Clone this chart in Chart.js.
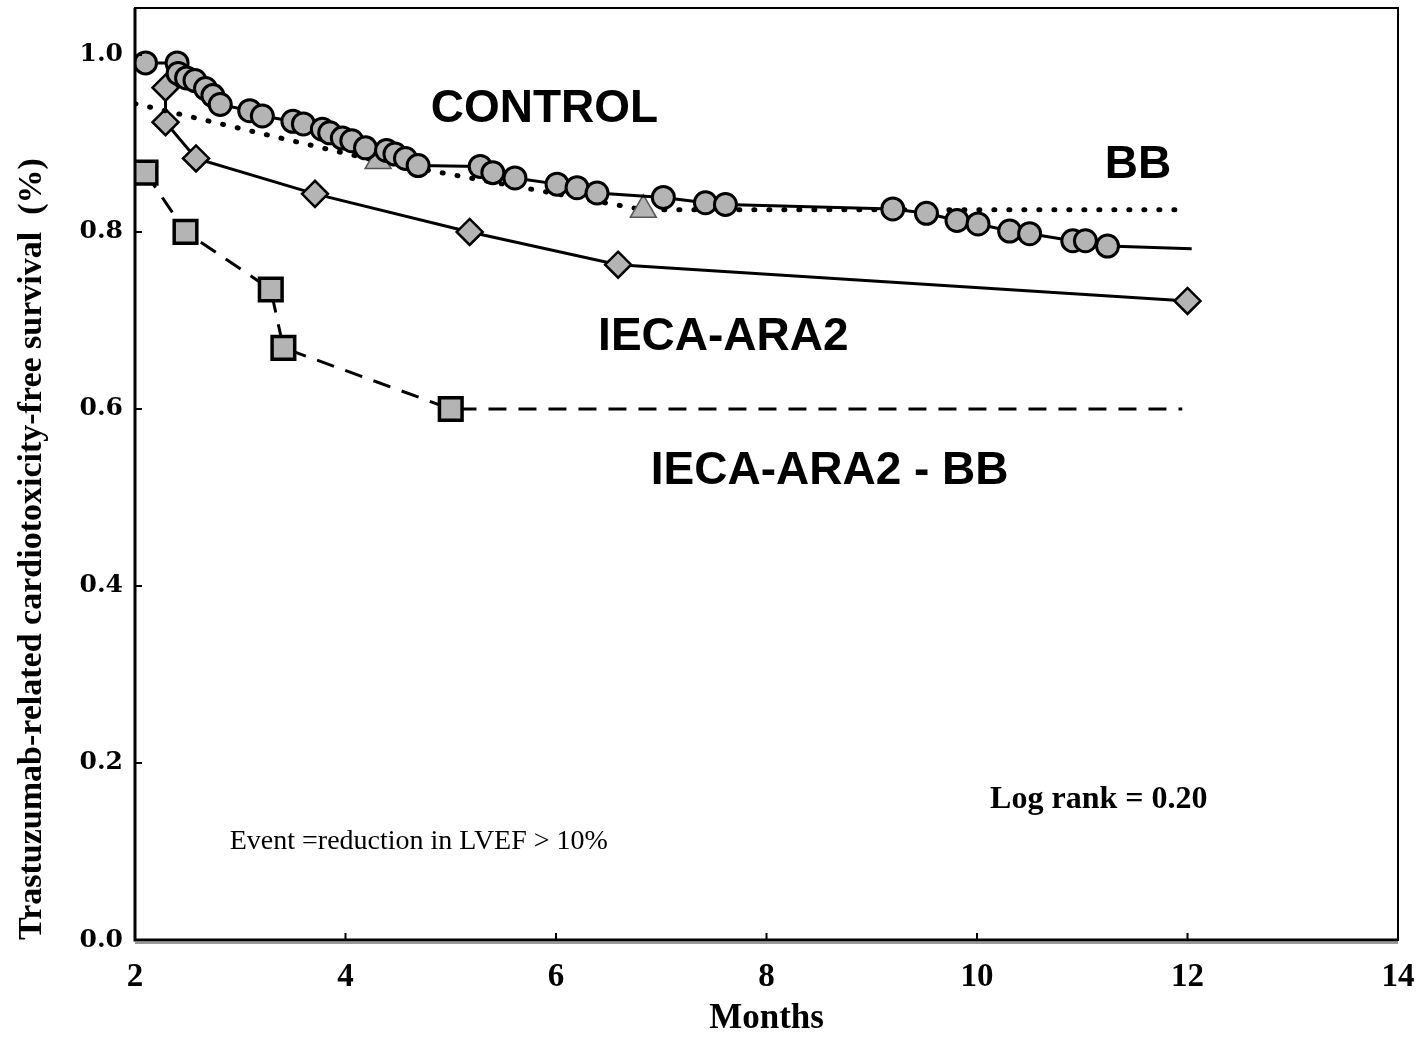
<!DOCTYPE html>
<html lang="en">
<head>
    <meta charset="UTF-8">
    <title>Trastuzumab-related cardiotoxicity-free survival</title>
    <script src="https://cdn.jsdelivr.net/npm/chart.js"></script>
    <style>
        body {
            margin: 0;
            padding: 0;
            background: #ffffff;
        }
        #chartContainer {
            width: 1421px;
            height: 1040px;
        }
    </style>
</head>
<body>
    <div id="chartContainer">
        <canvas id="chart"></canvas>
    </div>

    <script>
        // Ticks
        const xTicks = [2, 4, 6, 8, 10, 12, 14];
        const yTicks = [0.0, 0.2, 0.4, 0.6, 0.8, 1.0];

        // CONTROL (circles, solid line) - last point is the end of follow-up
        const controlMonths = [2.10, 2.40, 2.41, 2.49, 2.57, 2.67, 2.74, 2.81, 3.09, 3.21, 3.50, 3.60, 3.78, 3.85, 3.97, 4.06, 4.19, 4.39, 4.47, 4.57, 4.69,
            5.28, 5.40, 5.61, 6.01, 6.20, 6.39, 7.02, 7.42, 7.61, 9.20, 9.52, 9.81, 10.01, 10.31, 10.50, 10.91, 11.03, 11.24, 12.04];
        const controlSurv = [0.991, 0.991, 0.979, 0.974, 0.971, 0.962, 0.954, 0.944, 0.937, 0.931, 0.925, 0.922, 0.916, 0.912, 0.906, 0.903, 0.895, 0.892, 0.888, 0.883, 0.875,
            0.874, 0.867, 0.861, 0.854, 0.850, 0.844, 0.839, 0.833, 0.831, 0.826, 0.821, 0.813, 0.809, 0.801, 0.798, 0.790, 0.790, 0.784, 0.781];

        // BB (triangles, dotted line)
        const bbMonths = [2.0, 4.31, 6.83, 12.0];
        const bbSurv = [0.945, 0.880, 0.825, 0.825];

        // IECA-ARA2 (diamonds, solid line)
        const ieca2Months = [2.29, 2.29, 2.58, 3.71, 5.18, 6.59, 12.0];
        const ieca2Surv = [0.963, 0.924, 0.883, 0.843, 0.800, 0.763, 0.722];

        // IECA-ARA2 - BB (squares, dashed line)
        const iecaBbMonths = [2.10, 2.48, 3.29, 3.41, 5.00, 11.95];
        const iecaBbSurv = [0.867, 0.800, 0.735, 0.669, 0.600, 0.600];

        const toPoints = (xs, ys) => xs.map((x, i) => ({ x: x, y: ys[i] }));

        const markFill = '#b4b4b4';

        // texte dans le graphique, placé en coordonnées des axes
        const notes = [
            { text: 'CONTROL', x: 5.89, y: 0.938, font: 'bold 46px "Liberation Sans"', align: 'center' },
            { text: 'BB', x: 11.53, y: 0.875, font: 'bold 46px "Liberation Sans"', align: 'center' },
            { text: 'IECA-ARA2', x: 7.59, y: 0.681, font: 'bold 46px "Liberation Sans"', align: 'center' },
            { text: 'IECA-ARA2 - BB', x: 8.60, y: 0.530, font: 'bold 46px "Liberation Sans"', align: 'center' },
            { text: 'Log rank = 0.20', x: 12.19, y: 0.158, font: 'bold 32px "Liberation Serif"', align: 'right' },
            { text: 'Event =reduction in LVEF > 10%', x: 2.90, y: 0.111, font: '28px "Liberation Serif"', align: 'left' }
        ];

        const framePlugin = {
            id: 'frame',
            afterDatasetsDraw(chart) {
                const { ctx, chartArea: a, scales } = chart;
                ctx.save();
                ctx.strokeStyle = '#000';
                ctx.lineWidth = 2;
                ctx.strokeRect(a.left, a.top, a.right - a.left, a.bottom - a.top);
                // axes plus épais
                ctx.lineWidth = 3;
                ctx.beginPath();
                ctx.moveTo(a.left, a.top);
                ctx.lineTo(a.left, a.bottom);
                ctx.lineTo(a.right, a.bottom);
                ctx.stroke();
                ctx.strokeStyle = '#999';
                ctx.lineWidth = 2;
                ctx.beginPath();
                ctx.moveTo(a.left, a.bottom + 3);
                ctx.lineTo(a.right, a.bottom + 3);
                ctx.stroke();
                // petites graduations vers l'intérieur
                ctx.strokeStyle = '#000';
                ctx.lineWidth = 2;
                ctx.beginPath();
                xTicks.forEach(v => {
                    const px = scales.x.getPixelForValue(v);
                    ctx.moveTo(px, a.bottom);
                    ctx.lineTo(px, a.bottom - 7);
                });
                yTicks.forEach(v => {
                    const py = scales.y.getPixelForValue(v);
                    ctx.moveTo(a.left, py);
                    ctx.lineTo(a.left + 7, py);
                });
                ctx.stroke();
                // annotations
                ctx.fillStyle = '#000';
                ctx.textBaseline = 'middle';
                notes.forEach(n => {
                    ctx.font = n.font;
                    ctx.textAlign = n.align;
                    ctx.fillText(n.text, scales.x.getPixelForValue(n.x), scales.y.getPixelForValue(n.y));
                });
                ctx.restore();
            }
        };

        const ctx = document.getElementById('chart').getContext('2d');

        const chart = new Chart(ctx, {
            type: 'line',
            data: {
                datasets: [
                    {
                        label: 'CONTROL',
                        data: toPoints(controlMonths, controlSurv),
                        borderColor: '#000',
                        borderWidth: 3,
                        pointStyle: 'circle',
                        pointRadius: c => c.dataIndex === controlMonths.length - 1 ? 0 : 11,
                        pointBackgroundColor: markFill,
                        pointBorderColor: '#000',
                        pointBorderWidth: 3,
                        order: 1
                    },
                    {
                        label: 'BB',
                        data: toPoints(bbMonths, bbSurv),
                        borderColor: '#000',
                        borderWidth: 5,
                        borderDash: [1, 14],
                        borderCapStyle: 'round',
                        pointStyle: 'triangle',
                        pointRadius: c => (c.dataIndex === 0 || c.dataIndex === bbMonths.length - 1) ? 0 : 15,
                        pointBackgroundColor: markFill,
                        pointBorderColor: '#555',
                        pointBorderWidth: 1.5,
                        order: 2
                    },
                    {
                        label: 'IECA-ARA2',
                        data: toPoints(ieca2Months, ieca2Surv),
                        borderColor: '#000',
                        borderWidth: 3,
                        pointStyle: 'rectRot',
                        pointRadius: 13,
                        pointBackgroundColor: markFill,
                        pointBorderColor: '#000',
                        pointBorderWidth: 2.5,
                        order: 3
                    },
                    {
                        label: 'IECA-ARA2 - BB',
                        data: toPoints(iecaBbMonths, iecaBbSurv),
                        borderColor: '#000',
                        borderWidth: 3,
                        borderDash: [18, 12],
                        pointStyle: 'rect',
                        pointRadius: c => c.dataIndex === iecaBbMonths.length - 1 ? 0 : 16,
                        pointBackgroundColor: markFill,
                        pointBorderColor: '#000',
                        pointBorderWidth: 3.5,
                        order: 4
                    }
                ]
            },
            options: {
                responsive: true,
                maintainAspectRatio: false,
                animation: false,
                layout: {
                    autoPadding: false,
                    padding: { top: 8, right: 23, left: 0, bottom: 0 }
                },
                plugins: {
                    legend: { display: false },
                    tooltip: { enabled: false }
                },
                elements: {
                    line: { tension: 0 }
                },
                scales: {
                    x: {
                        type: 'linear',
                        min: 2,
                        max: 14,
                        afterBuildTicks: s => { s.ticks = xTicks.map(v => ({ value: v })); },
                        afterFit: s => { s.height = 100; s.paddingLeft = 0; s.paddingRight = 0; },
                        grid: { display: false, drawTicks: false },
                        border: { display: false },
                        ticks: {
                            autoSkip: false,
                            maxRotation: 0,
                            padding: 18,
                            color: '#000',
                            font: { family: '"Liberation Serif"', weight: 'bold', size: 33 }
                        },
                        title: {
                            display: true,
                            text: 'Months',
                            color: '#000',
                            padding: { top: 0, bottom: 0 },
                            font: { family: '"Liberation Serif"', weight: 'bold', size: 35 }
                        }
                    },
                    y: {
                        type: 'linear',
                        min: 0,
                        max: 1.053,
                        afterBuildTicks: s => { s.ticks = yTicks.map(v => ({ value: v })); },
                        afterFit: s => { s.width = 135; s.paddingTop = 0; s.paddingBottom = 0; },
                        grid: { display: false, drawTicks: false },
                        border: { display: false },
                        ticks: {
                            padding: 12,
                            color: '#000',
                            callback: v => Number(v).toFixed(1),
                            font: { family: '"DejaVu Serif"', weight: 'bold', size: 25 }
                        },
                        title: {
                            display: true,
                            align: 'start',
                            text: 'Trastuzumab-related cardiotoxicity-free survival  (%)',
                            color: '#000',
                            padding: { top: 12, bottom: 0 },
                            font: { family: '"Liberation Serif"', weight: 'bold', size: 34 }
                        }
                    }
                }
            },
            plugins: [framePlugin]
        });
    </script>
</body>
</html>
